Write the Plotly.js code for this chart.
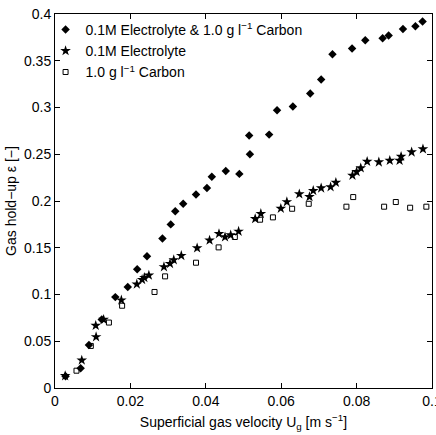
<!DOCTYPE html>
<html>
<head>
<meta charset="utf-8">
<script src="https://cdn.plot.ly/plotly-3.0.1.min.js"></script>
<style>html,body{margin:0;padding:0;background:#fff;}#chart{width:436px;height:435px;}</style>
</head>
<body>
<div id="chart"></div>
<script>
// Series 1: 0.1M Electrolyte & 1.0 g/l Carbon (diamonds)
const mixX = [0.0028,0.0068,0.0090,0.0124,0.0160,0.0193,0.0218,0.0244,0.0285,0.0307,0.0319,0.0340,0.0374,0.0403,0.0416,0.0453,0.0489,0.0517,0.0515,0.0568,0.0589,0.0631,0.0677,0.0706,0.0736,0.0788,0.0823,0.0869,0.0885,0.0923,0.0956,0.0975];
const mixY = [0.0126,0.0212,0.0461,0.0732,0.0972,0.108,0.127,0.141,0.160,0.175,0.189,0.197,0.207,0.214,0.226,0.232,0.229,0.250,0.270,0.271,0.297,0.301,0.315,0.330,0.357,0.363,0.372,0.374,0.377,0.384,0.387,0.392];
// Series 2: 0.1M Electrolyte (stars)
const elecX = [0.0027,0.0071,0.0109,0.0108,0.0129,0.0176,0.0217,0.0231,0.0237,0.0249,0.0289,0.0305,0.0315,0.0335,0.0377,0.0410,0.0435,0.0451,0.0466,0.0487,0.0531,0.0546,0.0599,0.0615,0.0648,0.0675,0.0685,0.0706,0.0731,0.0745,0.0789,0.0800,0.0811,0.0828,0.0859,0.0888,0.0914,0.0918,0.0946,0.0976];
const elecY = [0.013,0.0297,0.0547,0.0668,0.0732,0.094,0.111,0.1159,0.118,0.1205,0.1295,0.133,0.137,0.1415,0.1497,0.158,0.165,0.1615,0.1636,0.1675,0.181,0.1864,0.192,0.199,0.2074,0.2045,0.211,0.2138,0.215,0.2198,0.2273,0.2312,0.2352,0.2422,0.2416,0.2433,0.2433,0.2476,0.2523,0.2556];
// Series 3: 1.0 g/l Carbon (open squares)
const carbX = [0.0057,0.0095,0.0143,0.0178,0.0264,0.0292,0.0374,0.0434,0.0477,0.0544,0.0578,0.0629,0.0673,0.0773,0.0791,0.0873,0.0904,0.0942,0.0985];
const carbY = [0.0185,0.0450,0.0700,0.0880,0.1027,0.1194,0.134,0.1504,0.1615,0.180,0.1825,0.1917,0.197,0.1939,0.2042,0.1939,0.1989,0.1928,0.1939];

const names = ['0.1M Electrolyte &amp; 1.0 g l<sup>\u22121</sup> Carbon', '0.1M Electrolyte', '1.0 g l<sup>\u22121</sup> Carbon'];
const xTicks = [0, 0.02, 0.04, 0.06, 0.08, 0.1];
const yTicks = [0, 0.05, 0.1, 0.15, 0.2, 0.25, 0.3, 0.35, 0.4];

const font = {family: 'Liberation Sans, Arial, sans-serif', size: 14, color: '#000'};

const traces = [
  {x: mixX, y: mixY, name: names[0], type: 'scatter', mode: 'markers',
   marker: {symbol: 'diamond', size: 6.5, color: '#000', line: {width: 0}}},
  {x: elecX, y: elecY, name: names[1], type: 'scatter', mode: 'markers',
   marker: {symbol: 'star', size: 8, color: '#000', line: {width: 0}}},
  {x: carbX, y: carbY, name: names[2], type: 'scatter', mode: 'markers',
   marker: {symbol: 'square-open', size: 5, color: '#000', line: {width: 1, color: '#000'}}}
];

const axisCommon = {
  showline: true, mirror: 'ticks', linecolor: '#000', linewidth: 1,
  ticks: 'inside', ticklen: 5, tickcolor: '#000', tickwidth: 1,
  showgrid: false, zeroline: false, tickfont: font, ticklabeloverflow: 'allow'
};

const layout = {
  width: 436, height: 435,
  margin: {l: 55, r: 4, t: 14, b: 47},
  paper_bgcolor: '#fff', plot_bgcolor: '#fff',
  font: font,
  showlegend: true,
  legend: {x: -0.025, y: 1.0, xanchor: 'left', yanchor: 'top', bgcolor: 'rgba(0,0,0,0)', borderwidth: 0, font: font, tracegroupgap: 0},
  xaxis: Object.assign({}, axisCommon, {
    range: [0, 0.1], tickvals: xTicks, ticktext: xTicks.map(String),
    title: {text: 'Superficial gas velocity U<sub>g</sub> [m s<sup>\u22121</sup>]', font: font, standoff: 9}
  }),
  yaxis: Object.assign({}, axisCommon, {
    range: [0, 0.4], tickvals: yTicks, ticktext: yTicks.map(String),
    title: {text: 'Gas hold\u2212up \u03b5 [\u2212]', font: font, standoff: 4}
  })
};

Plotly.newPlot('chart', traces, layout, {displayModeBar: false, staticPlot: true});
</script>
</body>
</html>
